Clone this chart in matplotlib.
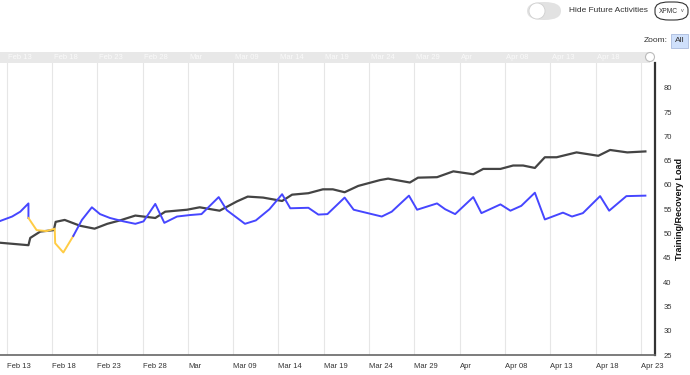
import matplotlib.pyplot as plt
from matplotlib.patches import FancyBboxPatch, Rectangle, Ellipse

plt.rcParams['font.family'] = ['Liberation Sans', 'DejaVu Sans']

# x values are days since Feb 13
tick_days = list(range(0, 75, 5))
tick_labels = ["Feb 13", "Feb 18", "Feb 23", "Feb 28", "Mar", "Mar 09", "Mar 14",
               "Mar 19", "Mar 24", "Mar 29", "Apr", "Apr 08", "Apr 13", "Apr 18", "Apr 23"]

# recovery load (dark line)
rec_days = [-0.7, 2.4, 2.6, 3.7, 5.2, 5.4, 6.4, 8.1, 9.7, 11.1, 12.5, 14.2, 16.4, 17.5,
            19.9, 21.3, 23.5, 25.4, 26.6, 28.3, 30.4, 31.5, 33.3, 34.9, 36.0, 37.3, 38.8,
            41.2, 42.1, 44.5, 45.4, 47.5, 49.3, 51.5, 52.6, 54.5, 55.9, 57.0, 58.3, 59.4,
            60.7, 62.9, 65.3, 66.6, 68.5, 70.5]
rec_vals = [48.1, 47.6, 49.1, 50.4, 50.7, 52.4, 52.8, 51.6, 51.0, 52.0, 52.7, 53.7, 53.2, 54.5,
            54.9, 55.4, 54.7, 56.6, 57.6, 57.4, 56.7, 58.0, 58.3, 59.1, 59.1, 58.5, 59.8,
            61.0, 61.3, 60.5, 61.5, 61.6, 62.8, 62.2, 63.3, 63.3, 64.0, 64.0, 63.5, 65.7,
            65.7, 66.7, 66.0, 67.2, 66.7, 66.9]

# training load (blue line), with a highlighted (yellow) stretch
train_days = [-0.7, 0.6, 1.5, 2.4, 2.4, 3.3, 4.4, 5.3, 5.35, 6.25, 7.35, 8.3, 9.4, 10.3,
              11.4, 12.9, 14.2, 15.1, 16.4, 17.4, 18.8, 20.2, 21.5, 23.4, 24.3, 26.3, 27.5,
              29.0, 30.4, 31.3, 33.3, 34.4, 35.4, 37.3, 38.3, 41.4, 42.5, 44.4, 45.3, 47.5,
              48.4, 49.5, 51.5, 52.4, 54.5, 55.6, 56.8, 58.3, 59.4, 61.4, 62.4, 63.6, 65.5,
              66.5, 68.4, 70.5]
train_vals = [52.6, 53.5, 54.5, 56.2, 53.2, 50.7, 50.5, 51.0, 48.0, 46.1, 49.5, 52.8, 55.4, 54.0,
              53.2, 52.5, 52.0, 52.5, 56.1, 52.2, 53.5, 53.8, 54.0, 57.5, 54.8, 52.0, 52.7,
              55.0, 58.1, 55.2, 55.3, 53.9, 54.0, 57.4, 54.9, 53.5, 54.5, 57.8, 54.9, 56.2,
              55.0, 54.0, 57.5, 54.2, 56.0, 54.7, 55.7, 58.4, 52.9, 54.3, 53.5, 54.2, 57.7,
              54.7, 57.7, 57.8]
hl_start, hl_end = 4, 10  # indices of the yellow part

y_ticks = list(range(25, 85, 5))

W, H = 690, 375
fig = plt.figure(figsize=(W / 100, H / 100), dpi=100)


def fx(px):
    return px / W


def fy(py):
    return 1 - py / H


def dot(px, py, r, **kw):
    # round marker given in pixels
    fig.add_artist(Ellipse((fx(px), fy(py)), 2 * r / W, 2 * r / H,
                           transform=fig.transFigure, **kw))


ax = fig.add_axes([0, fy(355), fx(655), fy(63) - fy(355)])
ax.plot(rec_days, rec_vals, color="#444444", lw=1.6, solid_joinstyle="round", zorder=3)
ax.plot(train_days[:hl_start + 1], train_vals[:hl_start + 1], color="#4646ff", lw=1.4, zorder=3)
ax.plot(train_days[hl_start:hl_end + 1], train_vals[hl_start:hl_end + 1], color="#ffcc44", lw=1.4, zorder=3)
ax.plot(train_days[hl_end:], train_vals[hl_end:], color="#4646ff", lw=1.4, zorder=3)

ax.set_xlim(-0.74, 71.56)
ax.set_ylim(25, 85.1)
ax.set_xticks(tick_days)
ax.set_xticklabels(tick_labels, ha="left", fontsize=5.5, color="#333333")
ax.set_yticks(y_ticks)
ax.set_yticklabels([str(v) for v in y_ticks], fontsize=5.5, color="#333333")
ax.yaxis.tick_right()
ax.yaxis.set_label_position("right")
ax.set_ylabel("Training/Recovery Load", fontsize=6.5, fontweight="bold", labelpad=2, color="#111111")
ax.tick_params(axis="x", length=0, pad=6)
ax.tick_params(axis="y", length=0, pad=6)
ax.grid(axis="x", color="#e6e6e6", lw=0.8)
for s in ["left", "top"]:
    ax.spines[s].set_visible(False)
ax.spines["right"].set_color("#333333")
ax.spines["right"].set_linewidth(1.6)
ax.spines["bottom"].set_color("#666666")
ax.spines["bottom"].set_linewidth(1.2)

# navigator band
fig.add_artist(Rectangle((0, fy(63)), fx(650), fy(52) - fy(63), transform=fig.transFigure,
                         facecolor="#e8e8e8", edgecolor="none"))
for d, lab in zip(tick_days[:-1], tick_labels[:-1]):
    px = 6.7 + d * 9.06
    fig.text(fx(px + 1.5), fy(57.5), lab, fontsize=5.5, color="#fafafa", va="center", ha="left")
dot(650, 57, 4.5, facecolor="white", edgecolor="#bbbbbb", lw=0.8)

# top controls
fig.add_artist(FancyBboxPatch((fx(527), fy(20)), fx(34), fy(2) - fy(20),
                              boxstyle="round,pad=0,rounding_size=0.024",
                              transform=fig.transFigure, facecolor="#e2e2e2", edgecolor="none"))
dot(537, 11, 8, facecolor="white", edgecolor="#d0d0d0", lw=0.6)
fig.text(fx(569), fy(11), "Hide Future Activities", fontsize=6, color="#333333", va="center", ha="left")
fig.add_artist(FancyBboxPatch((fx(655), fy(20)), fx(33), fy(2) - fy(20),
                              boxstyle="round,pad=0,rounding_size=0.02",
                              transform=fig.transFigure, facecolor="white", edgecolor="#333333", lw=0.8))
fig.text(fx(668), fy(11.5), "XPMC", fontsize=4.8, color="#333333", va="center", ha="center")
fig.text(fx(682), fy(11), "v", fontsize=4, color="#555555", va="center", ha="center")
fig.text(fx(668), fy(41), "Zoom:", fontsize=6, color="#333333", va="center", ha="right")
fig.add_artist(Rectangle((fx(671), fy(48)), fx(17), fy(34) - fy(48), transform=fig.transFigure,
                         facecolor="#cfe0fb", edgecolor="#aabbdd", lw=0.6))
fig.text(fx(679.5), fy(41), "All", fontsize=6, color="#333333", va="center", ha="center")

fig.savefig("out.png", dpi=100)
